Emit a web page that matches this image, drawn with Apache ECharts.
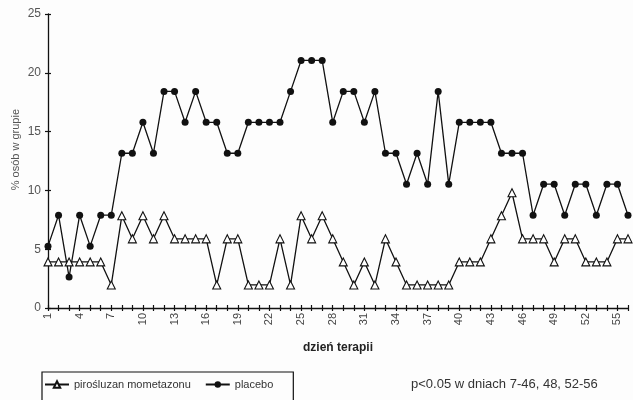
<!DOCTYPE html>
<html>
<head>
<meta charset="utf-8">
<script src="https://cdn.jsdelivr.net/npm/echarts@6/dist/echarts.min.js"></script>
<style>
  html, body { margin: 0; padding: 0; background: #fff; }
  #chart { width: 633px; height: 400px; }
</style>
</head>
<body>
<div id="chart"></div>
<script>
var days = ['1','2','3','4','5','6','7','8','9','10','11','12','13','14','15','16','17','18','19','20',
  '21','22','23','24','25','26','27','28','29','30','31','32','33','34','35','36','37','38','39','40',
  '41','42','43','44','45','46','47','48','49','50','51','52','53','54','55','56'];

// pirośluzan mometazonu (% osób)
var mometazon = [3.92,3.92,3.92,3.92,3.92,3.92,1.96,7.84,5.88,7.84,5.88,7.84,5.88,5.88,5.88,5.88,1.96,5.88,5.88,1.96,
  1.96,1.96,5.88,1.96,7.84,5.88,7.84,5.88,3.92,1.96,3.92,1.96,5.88,3.92,1.96,1.96,1.96,1.96,1.96,3.92,
  3.92,3.92,5.88,7.84,9.8,5.88,5.88,5.88,3.92,5.88,5.88,3.92,3.92,3.92,5.88,5.88];

// placebo (% osób)
var placebo = [5.26,7.89,2.63,7.89,5.26,7.89,7.89,13.16,13.16,15.79,13.16,18.42,18.42,15.79,18.42,15.79,15.79,13.16,13.16,15.79,
  15.79,15.79,15.79,18.42,21.05,21.05,21.05,15.79,18.42,18.42,15.79,18.42,13.16,13.16,10.53,13.16,10.53,18.42,10.53,15.79,
  15.79,15.79,15.79,13.16,13.16,13.16,7.89,10.53,10.53,7.89,10.53,10.53,7.89,10.53,10.53,7.89];

var yTicks = [0, 5, 10, 15, 20, 25];

var chart = echarts.init(document.getElementById('chart'));

var lineStyle = { color: '#111', width: 1.3 };

var option = {
  backgroundColor: '#fdfdfd',
  animation: false,
  grid: { left: 48, right: 5, top: 14, bottom: 92 },
  xAxis: [{
    type: 'category',
    data: days,
    boundaryGap: false,
    name: 'dzień terapii',
    nameLocation: 'middle',
    nameGap: 34,
    nameTextStyle: { fontFamily: 'Liberation Sans', fontSize: 12, fontWeight: 'bold', color: '#222' },
    axisLine: { lineStyle: { color: '#111', width: 1.3 } },
    axisTick: { alignWithLabel: true, interval: 0, length: 3, lineStyle: { color: '#111', width: 1.2 } },
    axisLabel: {
      interval: 2, rotate: 90, margin: 5,
      fontFamily: 'Liberation Sans', fontSize: 11, color: '#444'
    },
    splitLine: { show: false }
  }, {
    type: 'category',
    data: days,
    boundaryGap: false,
    position: 'bottom',
    axisLine: { show: false },
    axisTick: { inside: true, interval: 0, length: 3, lineStyle: { color: '#111', width: 1.2 } },
    axisLabel: { show: false },
    splitLine: { show: false }
  }],
  yAxis: [{
    type: 'value',
    min: yTicks[0],
    max: yTicks[yTicks.length - 1],
    interval: 5,
    axisLine: { show: true, lineStyle: { color: '#111', width: 1.3 } },
    axisTick: { show: true, length: 3, lineStyle: { color: '#111', width: 1.2 } },
    axisLabel: { margin: 7, fontFamily: 'Liberation Sans', fontSize: 12, color: '#555' },
    splitLine: { show: false }
  }, {
    type: 'value',
    position: 'left',
    min: yTicks[0],
    max: yTicks[yTicks.length - 1],
    interval: 5,
    axisLine: { show: false },
    axisTick: { show: true, inside: true, length: 3, lineStyle: { color: '#111', width: 1.2 } },
    axisLabel: { show: false },
    splitLine: { show: false }
  }],
  legend: {
    left: 42,
    top: 372,
    itemGap: 14,
    itemWidth: 24,
    itemHeight: 8,
    padding: [7, 20, 14, 2],
    borderColor: '#111',
    borderWidth: 1.2,
    borderRadius: 0,
    textStyle: { fontFamily: 'Liberation Sans', fontSize: 11, color: '#333' },
    data: ['pirośluzan mometazonu', 'placebo']
  },
  graphic: [{
    type: 'text',
    left: 10,
    top: 109,
    rotation: Math.PI / 2,
    style: {
      text: '% osób w grupie',
      fontFamily: 'Liberation Sans',
      fontSize: 11,
      fill: '#555'
    }
  }, {
    type: 'text',
    left: 411,
    top: 378,
    style: {
      text: 'p<0.05 w dniach 7-46, 48, 52-56',
      fontFamily: 'Liberation Sans',
      fontSize: 13,
      fill: '#333'
    }
  }],
  series: [{
    name: 'placebo',
    type: 'line',
    data: placebo,
    symbol: 'circle',
    symbolSize: 7,
    showAllSymbol: true,
    itemStyle: { color: '#111' },
    lineStyle: lineStyle,
    z: 3
  }, {
    name: 'pirośluzan mometazonu',
    type: 'line',
    data: mometazon,
    symbol: 'triangle',
    symbolSize: 8,
    showAllSymbol: true,
    itemStyle: { color: '#fff', borderColor: '#111', borderWidth: 1.1 },
    lineStyle: lineStyle,
    z: 4
  }]
};

chart.setOption(option);
</script>
</body>
</html>
